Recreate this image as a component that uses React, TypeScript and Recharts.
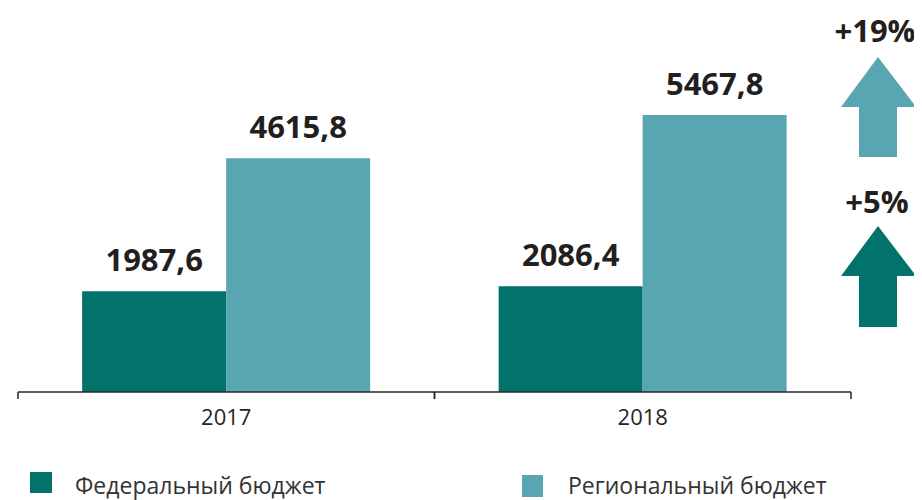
import React from 'react';
import { BarChart, Bar, XAxis, YAxis, LabelList, Customized } from 'recharts';

const years = ['2017', '2018'];
const federal = [1987.6, 2086.4];
const regional = [4615.8, 5467.8];
const seriesNames = ['Федеральный бюджет', 'Региональный бюджет'];
const growthLabels = ['+19%', '+5%'];

const DARK = '#01736A';
const LIGHT = '#59A6B3';
const FONT = '"Open Sans", "DejaVu Sans", sans-serif';

const data = years.map((y, i) => ({ year: y, federal: federal[i], regional: regional[i] }));

const fmt = (v: number) => v.toFixed(1).replace('.', ',');

const Tick = (props: any) => {
  const { x, y, payload } = props;
  const half = payload && typeof payload.offset === 'number' && payload.offset > 0 ? payload.offset : 208;
  return (
    <g>
      <line x1={x - half} x2={x - half} y1={y} y2={y + 7} stroke="#262626" strokeWidth={1.5} />
      <line x1={x + half} x2={x + half} y1={y} y2={y + 7} stroke="#262626" strokeWidth={1.5} />
      <text x={x} y={y + 33} textAnchor="middle" fontFamily={FONT} fontSize={22} fill="#262626">
        {payload.value}
      </text>
    </g>
  );
};

const Decor = () => (
  <g>
    <text x={867} y={34} textAnchor="middle" fontFamily={FONT} fontWeight={700} fontSize={31} fill="#231F20">
      {growthLabels[0]}
    </text>
    <path d="M870,49 L908,99 L889,99 L889,149 L851,149 L851,99 L833,99 Z" fill={LIGHT} />
    <text x={869} y={205} textAnchor="middle" fontFamily={FONT} fontWeight={700} fontSize={31} fill="#231F20">
      {growthLabels[1]}
    </text>
    <path d="M870,218 L908,268 L889,268 L889,319 L851,319 L851,268 L833,268 Z" fill={DARK} />
    <rect x={22} y={464} width={22} height={21} fill={DARK} />
    <text x={67} y={486} fontFamily={FONT} fontSize={23} fill="#333333">{seriesNames[0]}</text>
    <rect x={514} y={467} width={21} height={22} fill={LIGHT} />
    <text x={560} y={486} fontFamily={FONT} fontSize={23} fill="#333333">{seriesNames[1]}</text>
  </g>
);

export default function App() {
  return (
    <BarChart
      width={914}
      height={492}
      data={data}
      margin={{ top: 80, right: 71, bottom: 78, left: 10 }}
      barCategoryGap="15.4%"
      barGap={0}
    >
      <XAxis
        dataKey="year"
        axisLine={{ stroke: '#262626', strokeWidth: 1.5 }}
        tickLine={false}
        tickSize={0}
        tickMargin={0}
        height={30}
        tick={<Tick />}
        interval={0}
      />
      <YAxis hide domain={[0, 6000]} />
      <Bar dataKey="federal" name={seriesNames[0]} fill={DARK} isAnimationActive={false}>
        <LabelList
          dataKey="federal"
          position="top"
          offset={20}
          formatter={(v: any) => fmt(Number(v))}
          style={{ fontFamily: FONT, fontWeight: 700, fontSize: 31, fill: '#231F20' }}
        />
      </Bar>
      <Bar dataKey="regional" name={seriesNames[1]} fill={LIGHT} isAnimationActive={false}>
        <LabelList
          dataKey="regional"
          position="top"
          offset={20}
          formatter={(v: any) => fmt(Number(v))}
          style={{ fontFamily: FONT, fontWeight: 700, fontSize: 31, fill: '#231F20' }}
        />
      </Bar>
      <Customized component={Decor} />
    </BarChart>
  );
}
